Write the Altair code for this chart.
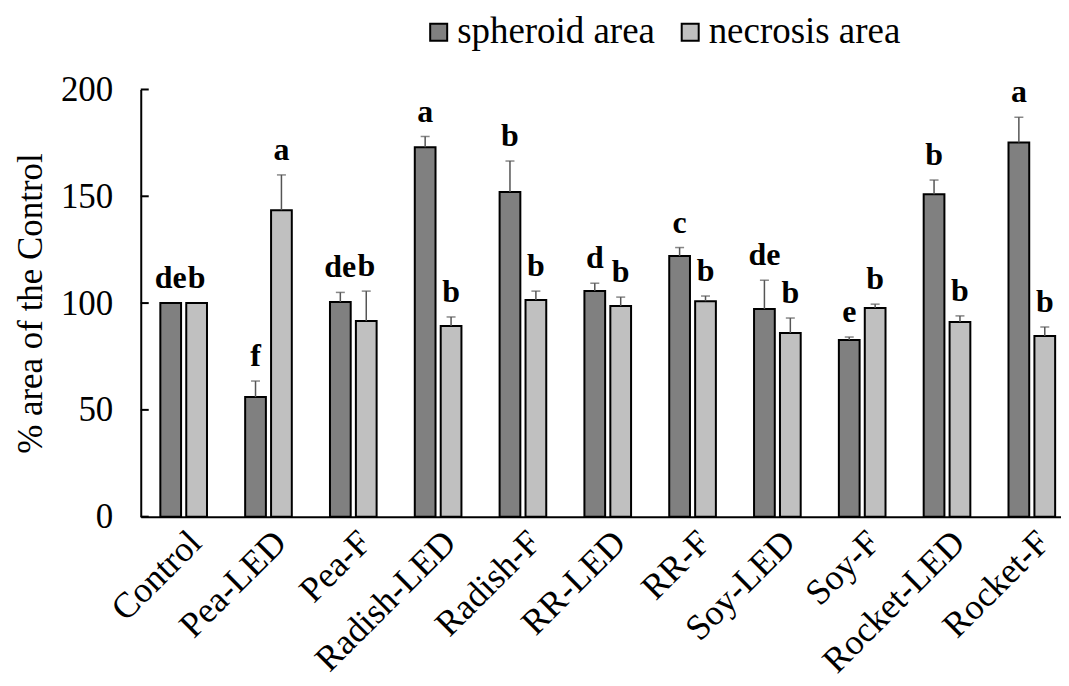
import altair as alt
import pandas as pd

categories = ["Control", "Pea-LED", "Pea-F", "Radish-LED", "Radish-F", "RR-LED",
              "RR-F", "Soy-LED", "Soy-F", "Rocket-LED", "Rocket-F"]
series_names = ["spheroid area", "necrosis area"]
spheroid = [100, 56, 100.5, 173, 152, 105.6, 122, 97.2, 82.7, 151, 175.2]
spheroid_err = [0, 7.5, 4.5, 5, 14.5, 3.7, 4, 13.5, 1.4, 6.6, 11.8]
necrosis = [100, 143.5, 91.6, 89.3, 101.4, 98.6, 100.9, 86, 97.7, 91.1, 84.6]
necrosis_err = [0, 16.5, 14, 4.2, 4.2, 4.2, 2.4, 7, 1.8, 2.9, 4.2]
spheroid_letters = ["de", "f", "de", "a", "b", "d", "c", "de", "e", "b", "a"]
necrosis_letters = ["b", "a", "b", "b", "b", "b", "b", "b", "b", "b", "b"]
y_ticks = [0, 50, 100, 150, 200]

rows = []
for i, c in enumerate(categories):
    rows.append(dict(cat=c, series=series_names[0], value=spheroid[i],
                     err=spheroid_err[i], top=spheroid[i] + spheroid_err[i],
                     letter=spheroid_letters[i]))
    rows.append(dict(cat=c, series=series_names[1], value=necrosis[i],
                     err=necrosis_err[i], top=necrosis[i] + necrosis_err[i],
                     letter=necrosis_letters[i]))
df = pd.DataFrame(rows)
tick_df = pd.DataFrame({"tick": y_ticks})

FONT = "Liberation Serif"

x_enc = alt.X("cat:N", sort=categories, title=None,
              scale=alt.Scale(paddingInner=0.45, paddingOuter=0.15, align=0.77),
              axis=alt.Axis(labelAngle=-45, labelFont=FONT, labelFontSize=36,
                            labelColor="black", ticks=False, domainColor="black",
                            domainWidth=2, labelPadding=8, labelLimit=0))
xoff = alt.XOffset("series:N", sort=series_names,
                   scale=alt.Scale(paddingInner=0.2))
y_scale = alt.Scale(domain=[0, 200], nice=False)

bars = alt.Chart(df).mark_bar(stroke="black", strokeWidth=2).encode(
    x=x_enc,
    xOffset=xoff,
    y=alt.Y("value:Q", scale=y_scale, title="% area of the Control",
            axis=alt.Axis(values=y_ticks, grid=False, ticks=False, tickSize=0,
                          domainColor="black", domainWidth=2,
                          labelFont=FONT, labelFontSize=35, labelColor="black",
                          labelPadding=28, titleFont=FONT, titleFontSize=35,
                          titleFontWeight="normal", titleColor="black",
                          titlePadding=12)),
    color=alt.Color("series:N", sort=series_names,
                    scale=alt.Scale(domain=series_names,
                                    range=["#808080", "#c0c0c0"]),
                    legend=alt.Legend(title=None, orient="none", direction="horizontal",
                                      legendX=280, legendY=-76,
                                      symbolType="square", symbolSize=290,
                                      symbolStrokeColor="black", symbolStrokeWidth=2,
                                      labelFont=FONT, labelFontSize=37,
                                      labelColor="black", labelOffset=0,
                                      columnPadding=16, labelLimit=400)),
)

err_df = df[df["err"] > 0]
err_rule = alt.Chart(err_df).mark_rule(color="#555555", strokeWidth=1.5).encode(
    x=alt.X("cat:N", sort=categories),
    xOffset=xoff,
    y=alt.Y("value:Q", scale=y_scale),
    y2="top:Q",
)
err_cap = alt.Chart(err_df).mark_tick(color="#555555", orient="horizontal",
                                      size=9, thickness=1.5).encode(
    x=alt.X("cat:N", sort=categories),
    xOffset=xoff,
    y=alt.Y("top:Q", scale=y_scale),
)
letters = alt.Chart(df).mark_text(font=FONT, fontSize=32, fontWeight="bold",
                                  baseline="alphabetic", dy=-15, color="black").encode(
    x=alt.X("cat:N", sort=categories),
    xOffset=xoff,
    y=alt.Y("top:Q", scale=y_scale),
    text="letter:N",
)
yticks = alt.Chart(tick_df).mark_rule(color="black", strokeWidth=2).encode(
    x=alt.value(0), x2=alt.value(8),
    y=alt.Y("tick:Q", scale=y_scale),
)

chart = alt.layer(bars, err_rule, err_cap, letters, yticks).properties(
    width=922, height=428,
    padding={"left": 5, "top": 5, "right": 0, "bottom": 0},
).configure_view(stroke=None)

chart.save("out.html", embed_options={"renderer": "svg", "actions": False})
